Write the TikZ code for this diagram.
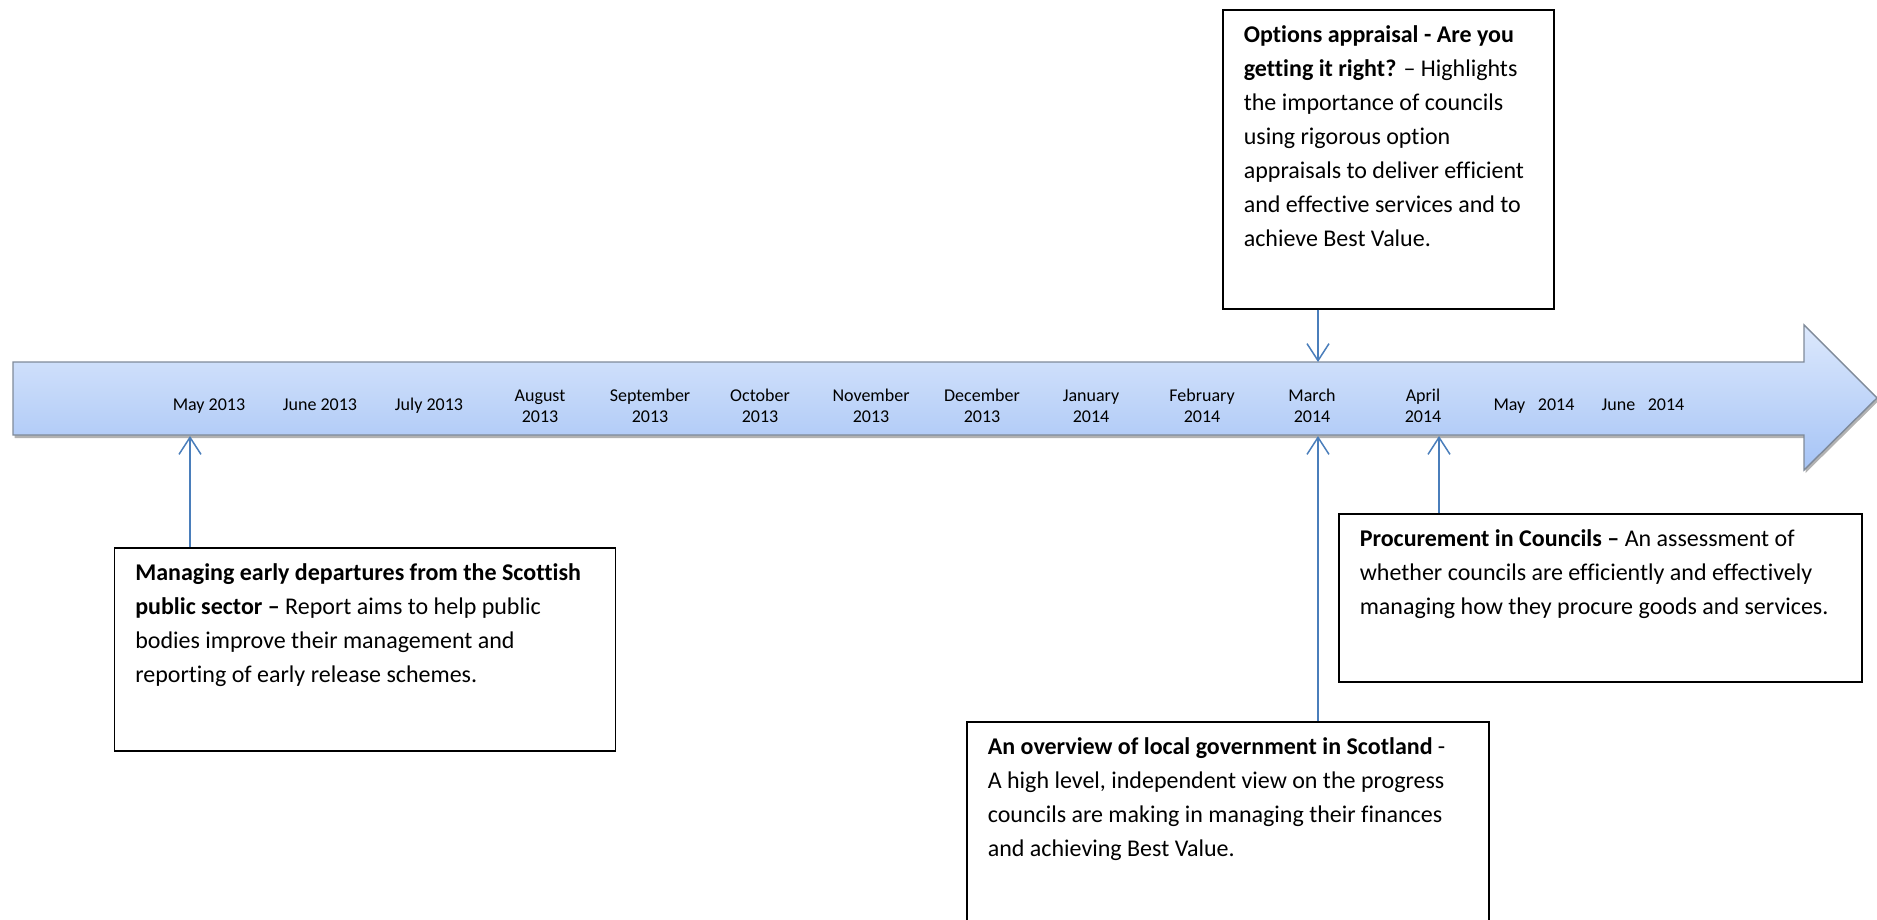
\documentclass[tikz,border=0pt]{standalone}
\usepackage{fontspec}
\setmainfont{Carlito}[Ligatures={TeX,NoCommon}]
\usetikzlibrary{arrows.meta,shadows}
\definecolor{bandtop}{HTML}{DCE8FC}
\definecolor{bandbot}{HTML}{A6C4F6}
\definecolor{bandedge}{HTML}{7F8A99}
\definecolor{conncol}{HTML}{4A7EBB}
\tikzset{
  month/.style={font=\fontsize{18}{21}\selectfont, inner sep=0pt, align=center},
  infobox/.style={draw=black, line width=1.6pt, fill=white, inner sep=0pt, anchor=north west},
  conn/.style={draw=conncol, line width=1.5pt, -{Straight Barb[length=17pt,width=22pt,line width=1.5pt]}}
}
\newcommand{\boxtext}[3]{\parbox[c][#2pt][t]{#1pt}{\fontsize{24}{34}\selectfont\raggedright\strut #3}}
\begin{document}
\begin{tikzpicture}[x=1pt,y=-1pt]
\clip (0,0) rectangle (1877,920);
\useasboundingbox (0,0) rectangle (1877,920);
% timeline band
\draw[draw=bandedge, line width=1.4pt, top color=bandtop, bottom color=bandbot,
      drop shadow={shadow xshift=1.5pt, shadow yshift=-3pt, opacity=0.3, fill=black}]
  (13,362) -- (1804,362) -- (1804,325) -- (1877,398) -- (1804,470) -- (1804,435) -- (13,435) -- cycle;
% anchor points on the band
\coordinate (bT1) at (1318,362);
\coordinate (bB1) at (190,436);
\coordinate (bB2) at (1318,436);
\coordinate (bB3) at (1439,436);
% months
\node[month, anchor=base] (m1) at (209,410) {May 2013};
\node[month, anchor=base] (m2) at (320,410) {June 2013};
\node[month, anchor=base] (m3) at (429,410) {July 2013};
\node[month, anchor=north] (m4) at (540,386.3) {\strut August\\\strut 2013};
\node[month, anchor=north] (m5) at (650,386.3) {\strut September\\\strut 2013};
\node[month, anchor=north] (m6) at (760,386.3) {\strut October\\\strut 2013};
\node[month, anchor=north] (m7) at (871,386.3) {\strut November\\\strut 2013};
\node[month, anchor=north] (m8) at (982,386.3) {\strut December\\\strut 2013};
\node[month, anchor=north] (m9) at (1091,386.3) {\strut January\\\strut 2014};
\node[month, anchor=north] (m10) at (1202,386.3) {\strut February\\\strut 2014};
\node[month, anchor=north] (m11) at (1312,386.3) {\strut March\\\strut 2014};
\node[month, anchor=north] (m12) at (1423,386.3) {\strut April\\\strut 2014};
\node[month, anchor=base] (m13) at (1534,410) {May\hspace{0.7em}2014};
\node[month, anchor=base] (m14) at (1643,410) {June\hspace{0.7em}2014};
% boxes
\node[infobox, minimum width=331pt, minimum height=299pt] (opt) at (1222,9)
  {\boxtext{289}{280.6}{\textbf{Options appraisal - Are you}\\
   \textbf{getting it right?} – Highlights\\
   the importance of councils\\
   using rigorous option\\
   appraisals to deliver efficient\\
   and effective services and to\\
   achieve Best Value.}};
\node[infobox, minimum width=501pt, minimum height=203pt] (mgr) at (113.5,547)
  {\boxtext{459}{184.6}{\textbf{Managing early departures from the Scottish}\\
   \textbf{public sector –} Report aims to help public\\
   bodies improve their management and\\
   reporting of early release schemes.}};
\node[infobox, minimum width=523pt, minimum height=168pt] (proc) at (1338,513)
  {\boxtext{481}{149.6}{\textbf{Procurement in Councils –} An assessment of\\
   whether councils are efficiently and effectively\\
   managing how they procure goods and services.}};
\node[infobox, minimum width=522pt, minimum height=220pt] (ovw) at (966,721)
  {\boxtext{480}{201.6}{\textbf{An overview of local government in Scotland} -\\
   A high level, independent view on the progress\\
   councils are making in managing their finances\\
   and achieving Best Value.}};
% connectors
\draw[conn] (opt.south -| bT1) -- (bT1);
\draw[conn] (mgr.north -| bB1) -- (bB1);
\draw[conn] (ovw.north -| bB2) -- (bB2);
\draw[conn] (proc.north -| bB3) -- (bB3);
\end{tikzpicture}
\end{document}
